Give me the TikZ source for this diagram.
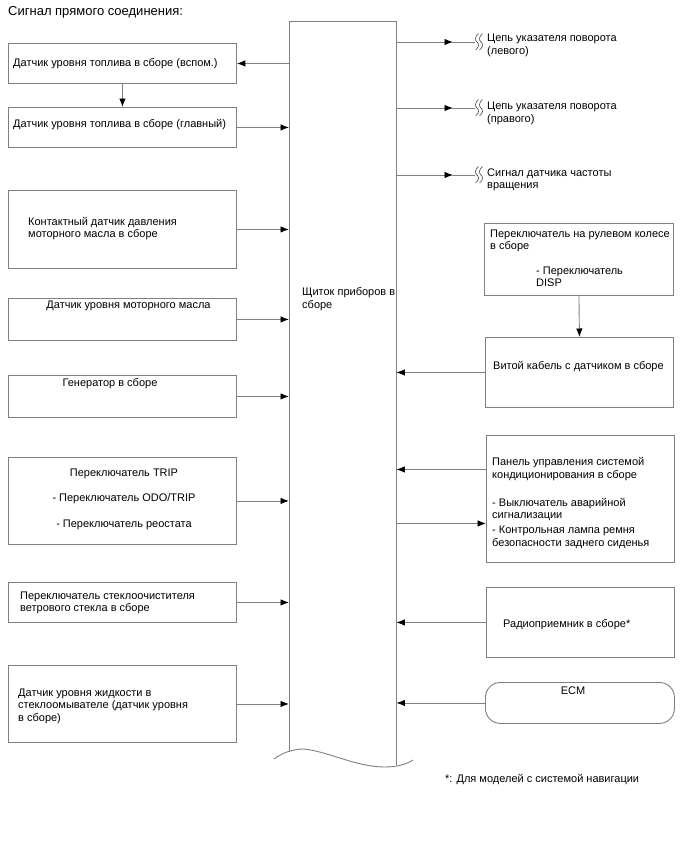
\documentclass[tikz,border=0pt]{standalone}
\usepackage{fontspec}
\setmainfont{Liberation Sans}
\usetikzlibrary{arrows.meta,calc}
\definecolor{lc}{RGB}{128,128,128}
\definecolor{sq}{RGB}{70,70,70}
\newcommand\mytl[5][txt]{\node[#1] (#2) at (#3,#4) {#5};}
\begin{document}
\begin{tikzpicture}[x=1pt,y=-1pt,
  box/.style={draw=lc, line width=0.9pt, inner sep=0pt, anchor=north west},
  txt/.style={inner sep=0pt, font=\fontsize{11}{13}\selectfont, anchor=base west},
  ctxt/.style={txt, anchor=base},
  ttl/.style={inner sep=0pt, font=\fontsize{13}{15}\selectfont, anchor=base west},
  conn/.style={draw=lc, line width=0.9pt},
  arr/.style={conn, -{Latex[length=8.5pt,width=6.5pt,black]}},
  brk/.pic={
    \draw[sq, line width=0.6pt] (1.5,-8.5) .. controls (-2.5,-5) and (-2,-1.5) .. (0,0) .. controls (2,1.5) and (2.5,5) .. (-1.5,8);
  },
]
\fill[white] (0,0) rectangle (688,852);
\useasboundingbox (0,0) rectangle (688,852);

% title
\mytl[ttl]{title}{8}{15}{Сигнал прямого соединения:}

% central box
\node[inner sep=0pt, minimum width=107pt, minimum height=745pt, anchor=north west] (cb) at (289,21) {};
\draw[conn] ($(cb.north west)+(0,731)$) -- (cb.north west) -- (cb.north east) -- ($(cb.north east)+(0,744)$);
\draw[conn] ($(cb.north west)+(-15,738)$) .. controls +(8,-6) and +(-10,0) .. ($(cb.north west)+(14,728)$)
   .. controls +(25,2) and +(-30,0) .. ($(cb.north west)+(96,746)$)
   .. controls +(12,0) and +(-6,4) .. ($(cb.north west)+(124,739)$);
\mytl{cbta}{302}{295}{Щиток приборов в}
\mytl{cbtb}{302}{308}{сборе}

% left boxes
\node[box, minimum width=228pt, minimum height=40pt] (b1) at (8,43) {};
\node[box, minimum width=228pt, minimum height=40pt] (b2) at (8,107) {};
\node[box, minimum width=228pt, minimum height=78pt] (b3) at (8,190) {};
\node[box, minimum width=228pt, minimum height=42pt] (b4) at (8,298) {};
\node[box, minimum width=228pt, minimum height=42pt] (b5) at (8,375) {};
\node[box, minimum width=228pt, minimum height=87pt] (b6) at (8,457) {};
\node[box, minimum width=228pt, minimum height=40pt] (b7) at (8,582) {};
\node[box, minimum width=228pt, minimum height=77pt] (b8) at (8,665) {};

\mytl{b1t}{13}{66}{Датчик уровня топлива в сборе (вспом.)}
\mytl{b2t}{13}{127}{Датчик уровня топлива в сборе (главный)}
\mytl{b3ta}{28}{225}{Контактный датчик давления}
\mytl{b3tb}{28}{237.5}{моторного масла в сборе}
\mytl[ctxt]{b4t}{128.5}{308}{Датчик уровня моторного масла}
\mytl[ctxt]{b5t}{110}{386}{Генератор в сборе}
\mytl[ctxt]{b6ta}{124}{476}{Переключатель TRIP}
\mytl[ctxt]{b6tb}{124}{501}{- Переключатель ODO/TRIP}
\mytl[ctxt]{b6tc}{124}{527}{- Переключатель реостата}
\mytl{b7ta}{20}{599}{Переключатель стеклоочистителя}
\mytl{b7tb}{20}{611}{ветрового стекла в сборе}
\mytl{b8ta}{18}{696}{Датчик уровня жидкости в}
\mytl{b8tb}{18}{708}{стеклоомывателе (датчик уровня}
\mytl{b8tc}{18}{721}{в сборе)}

% left connectors
\draw[arr] (cb.west |- b1.east) -- (b1.east);
\draw[arr] (b1.south) -- (b2.north);
\foreach \b in {b2,b3,b4,b5,b6,b7,b8}{
  \draw[arr] (\b.east) -- (cb.west |- \b.east);
}

% right outgoing signals
\coordinate (s1) at (475,42);
\coordinate (s2) at (475,108);
\coordinate (s3) at (475,175);
\foreach \s in {s1,s2,s3}{
  \draw[arr] (cb.east |- \s) -- ([xshift=-22pt]\s);
  \draw[conn] ([xshift=-23pt]\s) -- (\s);
  \pic at ([xshift=2pt]\s) {brk};
  \pic at ([xshift=6pt]\s) {brk};
}
\mytl{o1a}{487}{41}{Цепь указателя поворота}
\mytl{o1b}{487}{54}{(левого)}
\mytl{o2a}{487}{109}{Цепь указателя поворота}
\mytl{o2b}{487}{122}{(правого)}
\mytl{o3a}{487}{176}{Сигнал датчика частоты}
\mytl{o3b}{487}{188}{вращения}

% right boxes
\node[box, minimum width=189pt, minimum height=72pt] (r1) at (484,223) {};
\node[box, minimum width=188pt, minimum height=70pt] (r2) at (485,337) {};
\node[box, minimum width=188pt, minimum height=127pt] (r3) at (486,435) {};
\node[box, minimum width=188pt, minimum height=70pt] (r4) at (486,587) {};
\node[box, rounded corners=15pt, minimum width=189pt, minimum height=41pt] (ecm) at (485,682) {};

\mytl{r1a}{490}{237}{Переключатель на рулевом колесе}
\mytl{r1b}{490}{249}{в сборе}
\mytl{r1c}{536}{274}{- Переключатель}
\mytl{r1d}{536}{286}{DISP}
\mytl{r2t}{493}{369}{Витой кабель с датчиком в сборе}
\mytl{r3ta}{492}{465}{Панель управления системой}
\mytl{r3tb}{492}{478}{кондиционирования в сборе}
\mytl{r3tc}{492}{506}{- Выключатель аварийной}
\mytl{r3td}{492}{518}{сигнализации}
\mytl{r3te}{492}{533}{- Контрольная лампа ремня}
\mytl{r3tf}{492}{546}{безопасности заднего сиденья}
\mytl{r4t}{503}{627}{Радиоприемник в сборе*}
\mytl[ctxt]{ecmt}{573}{694}{ECM}

% right connectors
\draw[arr] (r1.south) -- (r2.north);
\draw[arr] (r2.west) -- (cb.east |- r2.west);
\coordinate (r3a) at ([yshift=29.5pt]r3.west);
\coordinate (r3b) at ([yshift=-24.5pt]r3.west);
\draw[arr] (r3a) -- (cb.east |- r3a);
\draw[arr] (cb.east |- r3b) -- (r3b);
\draw[arr] (r4.west) -- (cb.east |- r4.west);
\draw[arr] (ecm.west) -- (cb.east |- ecm.west);

% footnote
\mytl{foot}{445}{782}{*: Для моделей с системой навигации}
\end{tikzpicture}
\end{document}
